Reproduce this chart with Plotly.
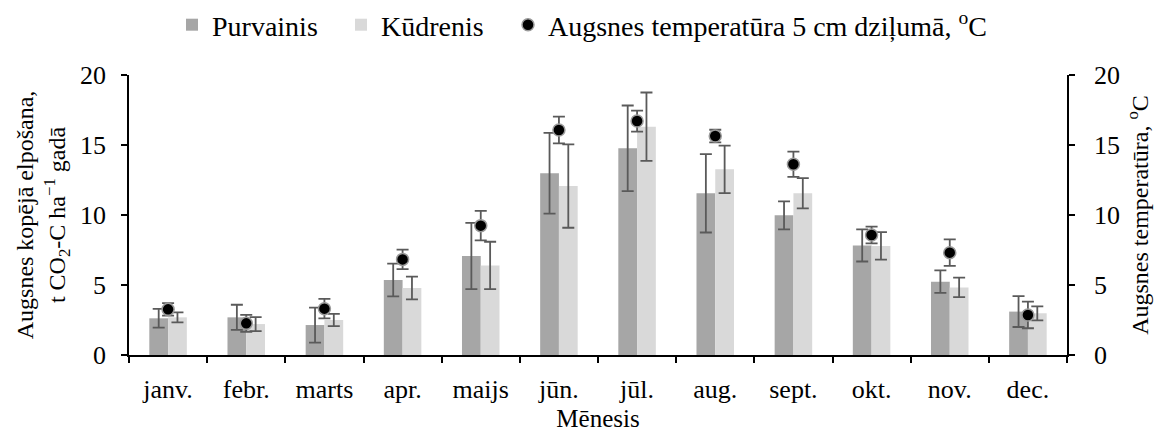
import plotly.graph_objects as go
from plotly.subplots import make_subplots

months = ["janv.", "febr.", "marts", "apr.", "maijs", "jūn.", "jūl.", "aug.", "sept.", "okt.", "nov.", "dec."]

purvainis = [2.62, 2.69, 2.14, 5.36, 7.07, 12.98, 14.76, 11.55, 9.98, 7.83, 5.24, 3.10]
purvainis_err = [0.67, 0.90, 1.25, 1.17, 2.37, 2.88, 3.06, 2.80, 1.00, 1.15, 0.80, 1.10]

kudrenis = [2.69, 2.21, 2.50, 4.79, 6.40, 12.07, 16.31, 13.26, 11.55, 7.79, 4.83, 2.98]
kudrenis_err = [0.36, 0.50, 0.44, 0.81, 1.69, 2.98, 2.44, 1.70, 1.08, 0.98, 0.70, 0.50]

temperature = [3.26, 2.26, 3.31, 6.83, 9.24, 16.07, 16.71, 15.64, 13.62, 8.57, 7.31, 2.86]
temperature_err = [0.45, 0.60, 0.70, 0.70, 1.05, 0.95, 0.75, 0.45, 0.90, 0.60, 0.95, 0.95]

FONT = "Liberation Serif"
ERR_COLOR = "#5a5a5a"
W, H = 1158, 432

fig = make_subplots(specs=[[{"secondary_y": True}]])

fig.add_trace(go.Bar(
    x=months, y=purvainis, name="Purvainis", legend="legend",
    marker=dict(color="#a6a6a6", line=dict(width=0)),
    error_y=dict(type="data", array=purvainis_err, color=ERR_COLOR, thickness=1.8, width=6),
), secondary_y=False)

fig.add_trace(go.Bar(
    x=months, y=kudrenis, name="Kūdrenis", legend="legend2",
    marker=dict(color="#d9d9d9", line=dict(width=0)),
    error_y=dict(type="data", array=kudrenis_err, color=ERR_COLOR, thickness=1.8, width=6),
), secondary_y=False)

fig.add_trace(go.Scatter(
    x=months, y=temperature, name="Augsnes temperatūra 5 cm dziļumā, <sup>o</sup>C",
    legend="legend3", mode="markers",
    marker=dict(color="black", size=12, line=dict(color="#9a9a9a", width=1.5)),
    error_y=dict(type="data", array=temperature_err, color=ERR_COLOR, thickness=1.8, width=6),
), secondary_y=True)


def legend_at(px_left):
    return dict(
        orientation="h", xref="container", yref="container",
        x=px_left / W, xanchor="left", y=1.0, yanchor="top",
        font=dict(family=FONT, size=28), itemwidth=30, bgcolor="rgba(0,0,0,0)",
    )


fig.update_layout(
    width=W, height=H,
    margin=dict(l=129, r=91, t=75, b=77),
    paper_bgcolor="white", plot_bgcolor="white",
    font=dict(family=FONT, size=24, color="black"),
    barmode="group", bargap=0.52, bargroupgap=0,
    legend=legend_at(172),
    legend2=legend_at(341),
    legend3=legend_at(508),
    showlegend=True,
)

fig.update_xaxes(
    domain=[0, 1], range=[-0.5, len(months) - 0.5],
    showline=True, linecolor="black", linewidth=1.5,
    ticks="outside", tickson="boundaries", ticklen=6, tickcolor="black", tickwidth=1.5,
    tickfont=dict(family=FONT, size=26), ticklabelstandoff=10,
    title=dict(text="Mēnesis", font=dict(family=FONT, size=25), standoff=12),
    showgrid=False, automargin=False,
)

fig.update_yaxes(
    range=[0, 20], dtick=5, showgrid=False, zeroline=False,
    showline=True, linecolor="black", linewidth=1.5,
    ticks="outside", ticklen=6, tickcolor="black", tickwidth=1.5,
    tickfont=dict(family=FONT, size=26), ticklabelstandoff=10,
    title=dict(text="Augsnes kopējā elpošana,<br>t CO<sub>2</sub>-C ha<sup>−1</sup> gadā",
               font=dict(family=FONT, size=24), standoff=8),
    automargin=False,
    secondary_y=False,
)
fig.update_yaxes(
    range=[0, 20], dtick=5, showgrid=False, zeroline=False,
    showline=True, linecolor="black", linewidth=1.5,
    ticks="outside", ticklen=6, tickcolor="black", tickwidth=1.5,
    tickfont=dict(family=FONT, size=26), ticklabelstandoff=14,
    title=dict(text="Augsnes temperatūra, <sup>o</sup>C", font=dict(family=FONT, size=24), standoff=12),
    automargin=False,
    secondary_y=True,
)

fig.write_html("out.html")
